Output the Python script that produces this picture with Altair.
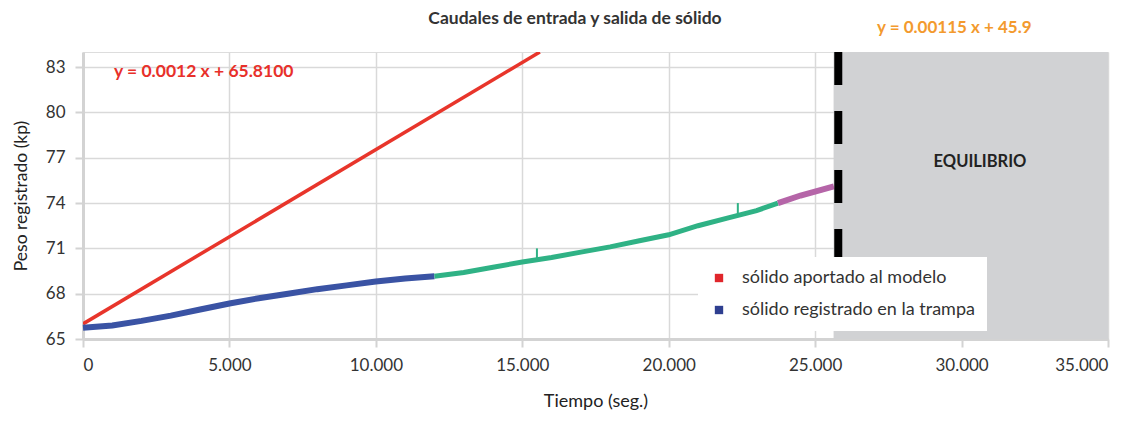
import altair as alt
import pandas as pd

FONT = "Lato"

# ---- data ----
x_ticks = [0, 5000, 10000, 15000, 20000, 25000, 30000, 35000]
y_ticks = [65, 68, 71, 74, 77, 80, 83]

red_t = [0, 15600]
red_w = [66.0, 84.0]

blue_t = [0, 1000, 2000, 3000, 4000, 5000, 6000, 7000, 8000, 9000, 10000, 11000, 12000]
blue_w = [65.75, 65.9, 66.2, 66.55, 66.95, 67.35, 67.7, 68.0, 68.3, 68.55, 68.8, 69.0, 69.15]

green_t = [12000, 13000, 14000, 15000, 16000, 17000, 18000,
           19000, 20000, 21000, 22000, 23000, 23730]
green_w = [69.15, 69.4, 69.75, 70.1, 70.4, 70.75, 71.1,
           71.5, 71.9, 72.5, 73.0, 73.5, 74.0]

spike_t = [15500, 22360]
spike_low = [70.2, 73.2]
spike_high = [71.0, 74.0]

purple_t = [23730, 24500, 25640]
purple_w = [74.0, 74.5, 75.1]

band_start = [25630]
band_end = [35000]
equilibrium_t = [25790]

serie_names = ["sólido aportado al modelo", "sólido registrado en la trampa"]
serie_colors = ["#e8352b", "#3a53a4"]
legend_colors = ["#e0262b", "#2e3f90"]

W, H = 1025, 287

red_df = pd.DataFrame({"t": red_t, "w": red_w})
blue_df = pd.DataFrame({"t": blue_t, "w": blue_w})
green_df = pd.DataFrame({"t": green_t, "w": green_w})
spike_df = pd.DataFrame({"t": spike_t, "w": spike_low, "w2": spike_high})
purple_df = pd.DataFrame({"t": purple_t, "w": purple_w})
band_df = pd.DataFrame({"t": band_start, "t2": band_end})
rule_df = pd.DataFrame({"t": equilibrium_t})
key_df = pd.DataFrame({"t": [red_t[0], blue_t[0]], "w": [red_w[0], blue_w[0]], "serie": serie_names})

x_scale = alt.Scale(domain=[0, 35000], nice=False)
y_scale = alt.Scale(domain=[65, 84], nice=False, zero=False)

x_axis = alt.Axis(
    values=x_ticks,
    labelExpr="replace(format(datum.value, ','), ',', '.')",
    title="Tiempo (seg.)",
    grid=True,
    gridColor="#d9d9d9",
    gridWidth=1.5,
    domainColor="#d3d3d3",
    domainWidth=3,
    tickColor="#d3d3d3",
    tickWidth=2,
    tickSize=8,
    labelFont=FONT,
    labelFontSize=17,
    labelColor="#333333",
    labelPadding=10,
    titleFont=FONT,
    titleFontSize=18,
    titleFontWeight="normal",
    titleColor="#222222",
    titlePadding=19,
)
y_axis = alt.Axis(
    values=y_ticks,
    title="Peso registrado (kp)",
    grid=True,
    gridColor="#d9d9d9",
    gridWidth=1.5,
    domainColor="#d3d3d3",
    domainWidth=3,
    tickColor="#d3d3d3",
    tickWidth=2,
    tickSize=8,
    labelFont=FONT,
    labelFontSize=17,
    labelColor="#333333",
    labelPadding=10,
    titleFont=FONT,
    titleFontSize=17.5,
    titleFontWeight="normal",
    titleColor="#222222",
    titlePadding=15,
)


def X(field="t"):
    return alt.X(f"{field}:Q", scale=x_scale, axis=x_axis, title="Tiempo (seg.)")


def Y(field="w"):
    return alt.Y(f"{field}:Q", scale=y_scale, axis=y_axis, title="Peso registrado (kp)")


band = alt.Chart(band_df).mark_rect(color="#d1d2d4").encode(
    x=X(), x2="t2:Q"
)

red = alt.Chart(red_df).mark_line(color=serie_colors[0], strokeWidth=3.5, clip=True, strokeCap="butt").encode(
    x=X(), y=Y(), order="t:Q"
)
blue = alt.Chart(blue_df).mark_line(color=serie_colors[1], strokeWidth=6, strokeCap="butt").encode(
    x=X(), y=Y(), order="t:Q"
)
green = alt.Chart(green_df).mark_line(color="#2fb285", strokeWidth=5, strokeCap="butt").encode(
    x=X(), y=Y(), order="t:Q"
)
spikes = alt.Chart(spike_df).mark_rule(color="#2fb285", strokeWidth=2).encode(
    x=X(), y=Y(), y2="w2:Q"
)
purple = alt.Chart(purple_df).mark_line(color="#b565a8", strokeWidth=6, strokeCap="butt").encode(
    x=X(), y=Y(), order="t:Q"
)

key = alt.Chart(key_df).mark_square(opacity=0, filled=True).encode(
    x=X(),
    y=Y(),
    color=alt.Color(
        "serie:N",
        scale=alt.Scale(domain=serie_names, range=legend_colors),
        legend=alt.Legend(
            title=None,
            orient="none",
            legendX=615,
            legendY=205,
            fillColor="white",
            padding=12,
            symbolType="square",
            symbolSize=70,
            symbolStrokeWidth=0,
            symbolOpacity=1,
            labelFont=FONT,
            labelFontSize=18,
            labelColor="#333333",
            labelOffset=14,
            labelLimit=0,
            rowPadding=14,
        ),
    ),
)

rule = alt.Chart(rule_df).mark_rule(
    color="black", strokeWidth=8, strokeDash=[33, 26], strokeCap="butt"
).encode(x=X())

title_txt = alt.Chart(pd.DataFrame({"s": ["Caudales de entrada y salida de sólido"]})).mark_text(
    font=FONT, fontSize=17.5, fontWeight="bold", color="#333333", align="center", baseline="middle"
).encode(text="s:N", x=alt.value(492), y=alt.value(-33))

red_eq = alt.Chart(pd.DataFrame({"s": ["y = 0.0012 x + 65.8100"]})).mark_text(
    font=FONT, fontSize=17.5, fontWeight="bold", color="#e8302a", align="left", baseline="middle"
).encode(text="s:N", x=alt.value(31), y=alt.value(20))

orange_eq = alt.Chart(pd.DataFrame({"s": ["y = 0.00115 x + 45.9"]})).mark_text(
    font=FONT, fontSize=17, fontWeight="bold", color="#f39a2e", align="left", baseline="middle"
).encode(text="s:N", x=alt.value(794), y=alt.value(-24))

equil = alt.Chart(pd.DataFrame({"s": ["EQUILIBRIO"]})).mark_text(
    font=FONT, fontSize=16.5, fontWeight="bold", color="#222222", align="center", baseline="middle"
).encode(text="s:N", x=alt.value(897), y=alt.value(110))

chart = alt.layer(
    band, red, blue, green, spikes, purple, key, rule, title_txt, red_eq, orange_eq, equil
).properties(
    width=W,
    height=H,
    autosize=alt.AutoSizeParams(type="none"),
    padding={"left": 75, "top": 44, "right": 20, "bottom": 76},
).configure_view(
    stroke="#d9d9d9", strokeWidth=2
).configure(background="white")

chart.save("out.html", embed_options={"renderer": "svg", "actions": False})
